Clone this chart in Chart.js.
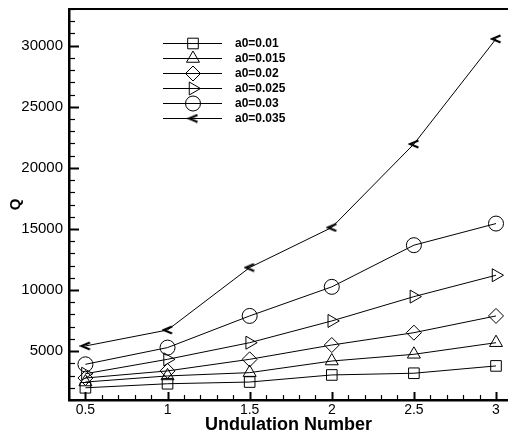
<!DOCTYPE html>
<html>
<head>
<meta charset="utf-8">
<script src="https://cdn.jsdelivr.net/npm/chart.js@4/dist/chart.umd.min.js"></script>
<style>
  html, body { margin: 0; padding: 0; background: #fff; overflow: hidden; }
  #chart { display: block; }
</style>
</head>
<body>
<canvas id="chart" width="508" height="439"></canvas>
<script>
// undulation number vs Q, one series per a0
const xValues = [0.5, 1, 1.5, 2, 2.5, 3];
const seriesLabels = ["a0=0.01", "a0=0.015", "a0=0.02", "a0=0.025", "a0=0.03", "a0=0.035"];
const q001  = [2000, 2330, 2470, 3050, 3190, 3790];
const q0015 = [2470, 2970, 3240, 4190, 4740, 5690];
const q002  = [2800, 3380, 4330, 5500, 6510, 7880];
const q0025 = [3150, 4330, 5690, 7470, 9460, 11210];
const q003  = [3920, 5290, 7880, 10260, 13670, 15440];
const q0035 = [5420, 6730, 11840, 15120, 21950, 30550];
const yMajorTicks = [5000, 10000, 15000, 20000, 25000, 30000];
const xMajorTicks = [0.5, 1, 1.5, 2, 2.5, 3];

const FONT = "'Liberation Sans', Arial, sans-serif";

// '<' marker
function makeChevron() {
    const c = document.createElement("canvas");
    c.width = 12; c.height = 10;
    const g = c.getContext("2d");
    g.strokeStyle = "#000";
    g.lineWidth = 2.2;
    g.beginPath();
    g.moveTo(10.5, 1.5);
    g.lineTo(2, 5);
    g.lineTo(10.5, 8.5);
    g.stroke();
    return c;
}
const chevron = makeChevron();

const allSeries = [q001, q0015, q002, q0025, q003, q0035];
const styles = [
    { pointStyle: "rect", rot: 0, r: 7.5 },
    { pointStyle: "triangle", rot: 0, r: 7.5 },
    { pointStyle: "rectRot", rot: 0, r: 7.5 },
    { pointStyle: "triangle", rot: 90, r: 7.5 },
    { pointStyle: "circle", rot: 0, r: 7.5 },
    { pointStyle: chevron, rot: 0, r: 6 }
];

const datasets = allSeries.map((arr, i) => ({
    label: seriesLabels[i],
    data: xValues.map((x, j) => ({ x: x, y: arr[j] })),
    borderColor: "#000",
    borderWidth: 1,
    backgroundColor: "rgba(0,0,0,0)",
    pointStyle: styles[i].pointStyle,
    pointRotation: styles[i].rot,
    pointRadius: styles[i].r,
    pointBorderColor: "#000",
    pointBorderWidth: 1,
    pointBackgroundColor: "rgba(0,0,0,0)",
    tension: 0,
    clip: false
}));

const isMult = (v, step) => Math.abs(v / step - Math.round(v / step)) < 1e-6;

// frame top line, inward ticks, legend
const framePlugin = {
    id: "frame",
    afterDraw(chart) {
        const { ctx, chartArea: a } = chart;
        const xs = chart.scales.x, ys = chart.scales.y;
        ctx.save();
        ctx.strokeStyle = "#000";
        ctx.lineWidth = 2;
        ctx.beginPath();
        ctx.moveTo(a.left - 1, a.top);
        ctx.lineTo(a.right, a.top);
        ctx.stroke();

        ys.ticks.forEach(t => {
            if (!isMult(t.value, 1000)) return;
            const major = isMult(t.value, 5000);
            const py = Math.round(ys.getPixelForValue(t.value)) + 0.5;
            ctx.lineWidth = major ? 2 : 1.2;
            ctx.beginPath();
            ctx.moveTo(a.left, py);
            ctx.lineTo(a.left + (major ? 10 : 6), py);
            ctx.stroke();
        });
        xs.ticks.forEach(t => {
            if (!isMult(t.value, 0.1)) return;
            const major = isMult(t.value, 0.5);
            const px = Math.round(xs.getPixelForValue(t.value)) + 0.5;
            ctx.lineWidth = major ? 2 : 1.2;
            ctx.beginPath();
            ctx.moveTo(px, a.bottom);
            ctx.lineTo(px, a.bottom - (major ? 8 : 5));
            ctx.stroke();
        });

        // legend
        const lx0 = 163, lx1 = 222, mx = 193, tx = 235, ly0 = 43.5, dy = 15;
        chart.data.datasets.forEach((ds, i) => {
            const y = ly0 + i * dy;
            ctx.strokeStyle = "#000";
            ctx.lineWidth = 1;
            ctx.beginPath();
            ctx.moveTo(lx0, y);
            ctx.lineTo(lx1, y);
            ctx.stroke();
            ctx.fillStyle = "rgba(0,0,0,0)";
            Chart.helpers.drawPoint(ctx, {
                pointStyle: ds.pointStyle,
                rotation: ds.pointRotation,
                radius: ds.pointRadius,
                borderWidth: 1
            }, mx, y);
            ctx.fillStyle = "#000";
            ctx.font = "bold 12px " + FONT;
            ctx.textAlign = "left";
            ctx.textBaseline = "middle";
            ctx.fillText(ds.label, tx, y);
        });
        ctx.restore();
    }
};

new Chart(document.getElementById("chart"), {
    type: "line",
    data: { datasets: datasets },
    options: {
        responsive: false,
        animation: false,
        devicePixelRatio: 1,
        layout: { autoPadding: false, padding: { top: 9, right: 0, left: 0, bottom: 0 } },
        plugins: { legend: { display: false }, tooltip: { enabled: false } },
        scales: {
            x: {
                type: "linear",
                min: 0.4,
                max: 3.073,
                afterFit: s => { s.height = 39; s.paddingLeft = 0; s.paddingRight = 0; },
                ticks: {
                    stepSize: 0.1,
                    autoSkip: false,
                    includeBounds: false,
                    maxRotation: 0,
                    padding: 2,
                    color: "#000",
                    font: { family: FONT, size: 14 },
                    callback: v => xMajorTicks.some(m => Math.abs(m - v) < 1e-6) ? String(v) : ""
                },
                grid: { display: false, drawTicks: false },
                border: { display: true, color: "#000", width: 2.5 },
                title: {
                    display: true,
                    text: "Undulation Number",
                    color: "#000",
                    font: { family: FONT, size: 18, weight: "bold" },
                    padding: { top: 0, bottom: 3 }
                }
            },
            y: {
                type: "linear",
                min: 1000,
                max: 33000,
                afterFit: s => { s.width = 69; s.paddingTop = 0; s.paddingBottom = 0; },
                ticks: {
                    stepSize: 1000,
                    autoSkip: false,
                    includeBounds: false,
                    padding: 6,
                    color: "#000",
                    font: { family: FONT, size: 15 },
                    callback: v => yMajorTicks.includes(v) ? String(v) : ""
                },
                grid: { display: false, drawTicks: false },
                border: { display: true, color: "#000", width: 2.5 },
                title: {
                    display: true,
                    text: "Q",
                    color: "#000",
                    font: { family: FONT, size: 15, weight: "bold" },
                    padding: { top: 7, bottom: 0 }
                }
            }
        }
    },
    plugins: [framePlugin]
});
</script>
</body>
</html>
